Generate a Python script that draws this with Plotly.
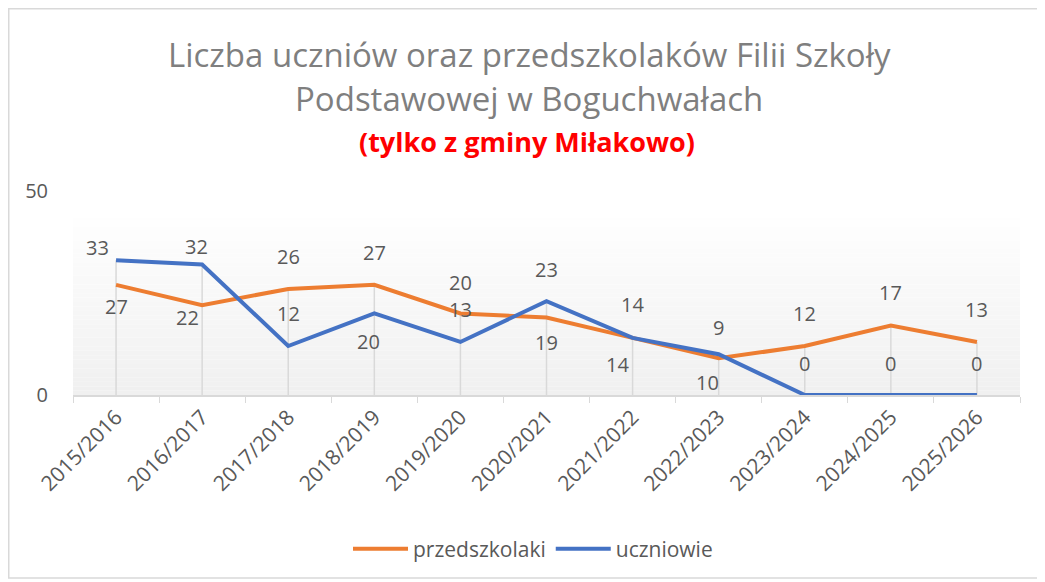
import plotly.graph_objects as go

categories = ["2015/2016", "2016/2017", "2017/2018", "2018/2019", "2019/2020", "2020/2021",
              "2021/2022", "2022/2023", "2023/2024", "2024/2025", "2025/2026"]
przedszkolaki = [27, 22, 26, 27, 20, 19, 14, 9, 12, 17, 13]
uczniowie = [33, 32, 12, 20, 13, 23, 14, 10, 0, 0, 0]

# label offsets (pixels) relative to the point: (xshift, yshift) - positive yshift = up
orange_off = [(0, -22), (-15, -12), (0, 32), (0, 32), (0, 31), (0, -25), (-15, -27), (0, 31), (0, 33), (0, 33), (0, 32)]
blue_off = [(-19, 13), (-6, 18), (0, 33), (-6, -28), (0, 32), (0, 32), (0, 33), (-11, -28), (0, 32), (0, 32), (0, 32)]

OFF = 8  # page body margin
W, H = 1045 - OFF, 582 - OFF
ML, MT = 73 - OFF, 191 - OFF
MR = W - (1020 - OFF)
MB = H - (395 - OFF)
PW = W - ML - MR
PH = H - MT - MB


def px_x(px):
    return (px - OFF - ML) / PW


def px_y(py):
    return (H - MB - (py - OFF)) / PH


ORANGE = "#ED7D31"
BLUE = "#4472C4"
TXT = "#595959"
FONT = "Open Sans"

fig = go.Figure()

# drop lines from highest point down to axis
dx, dy = [], []
for c, a, b in zip(categories, przedszkolaki, uczniowie):
    dx += [c, c, None]
    dy += [0, max(a, b), None]
fig.add_trace(go.Scatter(x=dx, y=dy, mode="lines", line=dict(color="#D9D9D9", width=1.5),
                         hoverinfo="skip", showlegend=False))

fig.add_trace(go.Scatter(x=categories, y=przedszkolaki, mode="lines", name="przedszkolaki",
                         line=dict(color=ORANGE, width=4)))
fig.add_trace(go.Scatter(x=categories, y=uczniowie, mode="lines", name="uczniowie",
                         line=dict(color=BLUE, width=4)))

annotations = []
for c, v, (xs, ys) in zip(categories, przedszkolaki, orange_off):
    annotations.append(dict(x=c, y=v, xref="x", yref="y", text=str(v), showarrow=False,
                            xshift=xs, yshift=ys, font=dict(family=FONT, size=20, color=TXT)))
for c, v, (xs, ys) in zip(categories, uczniowie, blue_off):
    annotations.append(dict(x=c, y=v, xref="x", yref="y", text=str(v), showarrow=False,
                            xshift=xs, yshift=ys, font=dict(family=FONT, size=20, color=TXT)))

# titles
annotations.append(dict(x=px_x(529), y=px_y(55), xref="paper", yref="paper", showarrow=False,
                        xanchor="center", yanchor="middle",
                        text="Liczba uczniów oraz przedszkolaków Filii Szkoły",
                        font=dict(family=FONT, size=33, color="#7F7F7F")))
annotations.append(dict(x=px_x(529), y=px_y(98), xref="paper", yref="paper", showarrow=False,
                        xanchor="center", yanchor="middle",
                        text="Podstawowej w Boguchwałach",
                        font=dict(family=FONT, size=33, color="#7F7F7F")))
annotations.append(dict(x=px_x(527), y=px_y(141), xref="paper", yref="paper", showarrow=False,
                        xanchor="center", yanchor="middle",
                        text="<b>(tylko z gminy Miłakowo)</b>",
                        font=dict(family=FONT, size=27, color="#FF0000")))

shapes = []
# gradient plot background
n = 40
top = px_y(218)
for i in range(n):
    y0 = top * i / n
    y1 = top * (i + 1) / n
    t = i / (n - 1)  # 0 bottom -> 1 top
    g = int(round(240 + (254 - 240) * t))
    shapes.append(dict(type="rect", xref="paper", yref="paper", x0=0, x1=1, y0=y0, y1=y1,
                       fillcolor=f"rgb({g},{g},{g})", line=dict(width=0), layer="below"))
# chart border
shapes.append(dict(type="rect", xref="paper", yref="paper", x0=px_x(8.75), x1=px_x(1040),
                   y0=px_y(578), y1=px_y(8.75), line=dict(color="#D9D9D9", width=1.5),
                   fillcolor="rgba(0,0,0,0)", layer="below"))

fig.update_layout(
    width=W, height=H,
    margin=dict(l=ML, r=MR, t=MT, b=MB),
    paper_bgcolor="white", plot_bgcolor="rgba(0,0,0,0)",
    font=dict(family=FONT, color=TXT),
    showlegend=True,
    legend=dict(orientation="h", x=px_x(533), xanchor="center", y=px_y(549), yanchor="middle",
                font=dict(family=FONT, size=21, color=TXT), itemwidth=55),
    annotations=annotations,
    shapes=shapes,
)
fig.update_xaxes(type="category", tickangle=-45, tickson="boundaries", ticks="outside", ticklen=6,
                 tickcolor="#D9D9D9", showline=True, linecolor="#D9D9D9", linewidth=1.5,
                 showgrid=False, tickfont=dict(family=FONT, size=21, color=TXT),
                 range=[-0.5, len(categories) - 0.5])
fig.update_yaxes(range=[0, 50], tickvals=[0, 50], showgrid=False, zeroline=False, showline=False,
                 tickfont=dict(family=FONT, size=20, color=TXT), ticklabelstandoff=24)

fig.write_html("out.html")
